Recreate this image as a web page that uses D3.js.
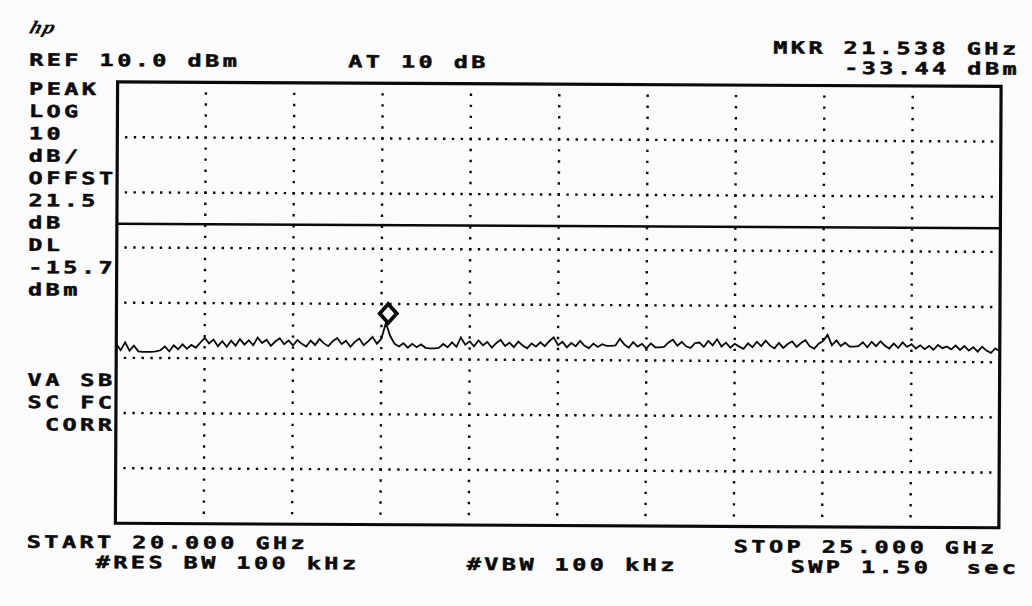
<!DOCTYPE html>
<html>
<head>
<meta charset="utf-8">
<script src="https://cdn.jsdelivr.net/npm/d3@7"></script>
<style>
  html, body { margin: 0; padding: 0; background: #fbfbfb; }
  svg { display: block; }
  text { white-space: pre; }
</style>
</head>
<body>
<svg id="screen" width="1032" height="606"></svg>
<script>
// ---- Analyzer settings -------------------------------------------------
const startGHz = 20.0;
const stopGHz = 25.0;
const refLevelDbm = 10.0;
const dbPerDiv = 10;
const vertDivs = 8;
const horzDivs = 10;
const displayLineDbm = -15.7;
const markerGHz = 21.538;
const markerDbm = -33.44;

// Swept trace, 201 points evenly spaced from START to STOP (dBm)
const traceDbm = [
  -37.5, -38.6, -37.2, -38.7, -37.8, -38.8, -38.9, -38.9, -38.9, -38.8,
  -38.6, -37.9, -38.8, -37.7, -38.4, -37.5, -38.3, -37.6, -38.1, -37.2,
  -36.3, -37.3, -36.6, -37.8, -36.9, -37.9, -36.8, -37.7, -36.5, -37.5,
  -36.7, -37.6, -36.2, -37.2, -36.6, -37.7, -36.9, -36.3, -37.4, -36.7,
  -37.6, -36.6, -37.3, -37.8, -36.7, -37.5, -36.4, -37.2, -37.7, -36.8,
  -36.2, -37.3, -36.7, -37.8, -36.9, -36.3, -37.5, -36.8, -36.0, -37.2,
  -36.3, -33.44, -35.8, -37.2, -37.7, -37.1, -37.9, -37.2, -37.8, -37.3,
  -37.9, -38.0, -38.0, -37.9, -37.2, -37.8, -36.9, -37.7, -36.0, -37.3,
  -36.7, -37.6, -36.5, -37.4, -36.8, -37.8, -37.0, -36.4, -37.5, -36.9,
  -37.7, -36.7, -37.4, -37.9, -37.0, -37.6, -36.8, -37.5, -36.6, -35.9,
  -37.3, -36.7, -37.7, -36.9, -37.5, -36.5, -37.4, -37.8, -37.0, -37.6,
  -37.1, -37.4, -37.4, -37.3, -36.1, -37.1, -37.7, -36.7, -37.5, -37.0,
  -37.8, -36.9, -37.6, -37.6, -37.5, -36.7, -36.2, -37.3, -36.6, -37.4,
  -37.7, -36.8, -36.7, -37.5, -36.4, -37.2, -36.1, -37.4, -36.7, -37.6,
  -36.9, -37.4, -37.8, -36.8, -37.5, -36.5, -37.3, -36.3, -37.2, -37.7,
  -36.7, -37.6, -36.9, -36.4, -37.4, -36.7, -36.2, -37.3, -37.7, -36.8,
  -36.3, -35.2, -37.1, -36.2, -37.2, -36.6, -37.3, -37.3, -37.2, -36.5,
  -37.4, -36.4, -37.2, -36.3, -37.1, -37.6, -36.7, -37.5, -36.5, -37.3,
  -36.8, -37.6, -37.0, -37.7, -37.1, -37.8, -36.9, -37.5, -37.2, -37.7,
  -37.0, -37.8, -37.1, -37.9, -37.3, -38.1, -37.2, -37.9, -38.3, -37.5,
  -38.0
];

// ---- Annotation text ---------------------------------------------------
const hpLogo = "hp";
const refText = "REF 10.0 dBm";
const attenText = "AT 10 dB";
const markerLines = ["MKR 21.538 GHz", "-33.44 dBm"];
const sideLinesUpper = ["PEAK", "LOG", "10", "dB/", "OFFST", "21.5", "dB", "DL", "-15.7", "dBm"];
const sideLinesLower = ["VA SB", "SC FC", " CORR"];
const startText = "START 20.000 GHz";
const stopText = "STOP 25.000 GHz";
const rbwText = "#RES BW 100 kHz";
const vbwText = "#VBW 100 kHz";
const sweepText = "SWP 1.50";
const sweepUnit = "sec";

// ---- Layout ------------------------------------------------------------
const W = 1032, H = 606;
const plot = { left: 116.5, right: 1000, top: 84, bottom: 525.3 };
const ink = "#0a0a0a";
const paper = "#fbfbfb";

const svg = d3.select("#screen");
svg.append("rect").attr("width", W).attr("height", H).attr("fill", paper);

// the printout sits very slightly skewed on the page
const page = svg.append("g").attr("transform", "rotate(0.29, 516, 303)");

const x = d3.scaleLinear().domain([startGHz, stopGHz]).range([plot.left, plot.right]);
const y = d3.scaleLinear()
  .domain([refLevelDbm - dbPerDiv * vertDivs, refLevelDbm])
  .range([plot.bottom, plot.top]);

// ---- Dotted graticule --------------------------------------------------
const span = stopGHz - startGHz;
const hLevels = d3.range(1, vertDivs).map(k => refLevelDbm - k * dbPerDiv);
const vFreqs = d3.range(1, horzDivs).map(k => startGHz + k * span / horzDivs);
const hDotFreqs = d3.range(1, horzDivs * 10).map(j => startGHz + j * span / (horzDivs * 10));
const vDotLevels = d3.range(1, vertDivs * 5).map(j => refLevelDbm - j * dbPerDiv / 5);

const dots = [];
hLevels.forEach(l => hDotFreqs.forEach(f => dots.push([f, l])));
vFreqs.forEach(f => vDotLevels.forEach(l => dots.push([f, l])));

page.append("g").selectAll("rect").data(dots).join("rect")
  .attr("x", d => x(d[0]) - 1.2)
  .attr("y", d => y(d[1]) - 1.2)
  .attr("width", 2.4).attr("height", 2.4)
  .attr("fill", ink);

// ---- Display line ------------------------------------------------------
page.append("line")
  .attr("x1", x(startGHz)).attr("x2", x(stopGHz))
  .attr("y1", y(displayLineDbm)).attr("y2", y(displayLineDbm))
  .attr("stroke", ink).attr("stroke-width", 2.4);

// ---- Trace -------------------------------------------------------------
const idx = d3.scaleLinear().domain([0, traceDbm.length - 1]).range([startGHz, stopGHz]);
const traceLine = d3.line()
  .x((d, i) => x(idx(i)))
  .y(d => y(d));
page.append("path")
  .datum(traceDbm)
  .attr("d", traceLine)
  .attr("fill", "none")
  .attr("stroke", ink)
  .attr("stroke-width", 1.8)
  .attr("stroke-linejoin", "miter");

// ---- Frame -------------------------------------------------------------
page.append("rect")
  .attr("x", plot.left).attr("y", plot.top)
  .attr("width", plot.right - plot.left).attr("height", plot.bottom - plot.top)
  .attr("fill", "none").attr("stroke", ink).attr("stroke-width", 3.2);

// ---- Marker diamond (bottom vertex sits on the marked level) -----------
const mx = x(markerGHz), my = y(markerDbm);
const dHalfW = 8.5, dHalfH = 9.5;
page.append("path")
  .attr("d", `M${mx},${my} L${mx + dHalfW},${my - dHalfH} L${mx},${my - 2 * dHalfH} L${mx - dHalfW},${my - dHalfH} Z`)
  .attr("fill", paper).attr("stroke", ink).attr("stroke-width", 3.8);

// ---- Text helper: wide, bold, fixed-pitch screen characters -------------
const PITCH = 17.6, SX = 1.38, FS = 17;
const LS = PITCH / SX - 0.602 * FS;
function screenText(str, left, centerY) {
  page.append("text")
    .attr("transform", `translate(${left},${centerY + 0.365 * FS}) scale(${SX},1)`)
    .attr("font-family", "'DejaVu Sans Mono', monospace")
    .attr("font-weight", "bold")
    .attr("font-size", FS)
    .attr("letter-spacing", LS)
    .attr("fill", ink)
    .attr("stroke", ink)
    .attr("stroke-width", 0.5)
    .text(str);
}

// hp logo
page.append("text")
  .attr("transform", "translate(27,36) skewX(-18)")
  .attr("font-family", "'DejaVu Serif', serif")
  .attr("font-style", "italic")
  .attr("font-weight", "bold")
  .attr("font-size", 17)
  .attr("fill", ink)
  .text(hpLogo);

screenText(refText, 28, 62);
screenText(attenText, 347, 62);
screenText(markerLines[0], 772, 46);
screenText(markerLines[1], 843, 66);

const lineGap = 22.3;
sideLinesUpper.forEach((t, k) => screenText(t, 28, 91 + k * lineGap));
sideLinesLower.forEach((t, k) => screenText(t, 28, 382 + k * lineGap));

screenText(startText, 28, 544);
screenText(rbwText, 97, 564);
screenText(vbwText, 468, 564);
screenText(stopText, 735, 545);
screenText(sweepText, 792, 565);
screenText(sweepUnit, 968, 565);
</script>
</body>
</html>
